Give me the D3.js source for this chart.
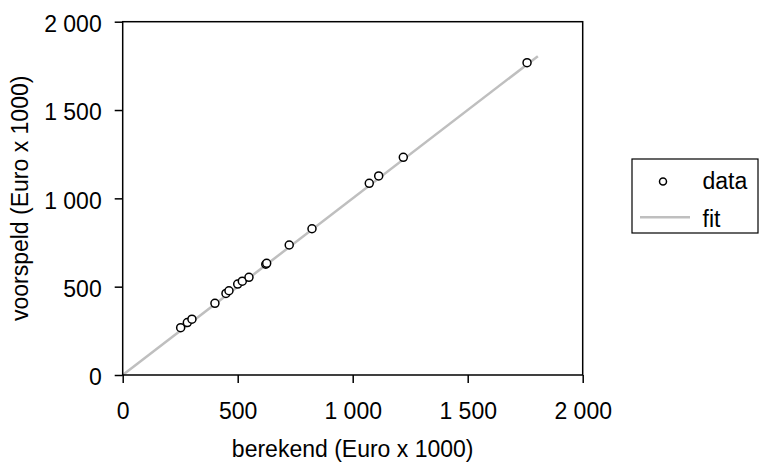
<!DOCTYPE html>
<html>
<head>
<meta charset="utf-8">
<script src="https://cdn.jsdelivr.net/npm/d3@7"></script>
<style>
  body { margin: 0; background: #fff; }
  text { font-family: "Liberation Sans", Arial, sans-serif; fill: #000; }
</style>
</head>
<body>
<div id="chart"></div>
<script>
// data
var berekend  = [252, 281, 301, 401, 449, 462, 500, 520, 549, 622, 626, 724, 823, 1072, 1113, 1220, 1758];
var voorspeld = [268, 297, 316, 406, 462, 477, 515, 531, 553, 627, 632, 736, 828, 1085, 1127, 1232, 1768];
var fitX = [0, 1805];
var fitY = [0, 1805];
var xTicks = [0, 500, 1000, 1500, 2000];
var yTicks = [0, 500, 1000, 1500, 2000];
var legendLabels = ["data", "fit"];

var W = 768, H = 464;
var margin = {top: 21.7, right: 185.3, bottom: 89, left: 122.7},
    width = W - margin.left - margin.right,
    height = H - margin.top - margin.bottom;

var fmt = function(d) { return d3.format(",")(d).replace(/,/g, "\u00a0"); };

var svg = d3.select("#chart")
  .append("svg")
    .attr("width", W)
    .attr("height", H);

var g = svg.append("g")
    .attr("transform", "translate(" + margin.left + "," + margin.top + ")");

var x = d3.scaleLinear().domain([0, 2000]).range([0, width]);
var y = d3.scaleLinear().domain([0, 2000]).range([height, 0]);

// fit line
var pts = fitX.map(function(d, i) { return [d, fitY[i]]; });
g.append("path")
  .datum(pts)
  .attr("d", d3.line().x(function(d) { return x(d[0]); }).y(function(d) { return y(d[1]); }))
  .attr("fill", "none")
  .attr("stroke", "#bfbfbf")
  .attr("stroke-width", 2.5);

// frame
g.append("rect")
  .attr("width", width)
  .attr("height", height)
  .attr("fill", "none")
  .attr("stroke", "#000")
  .attr("stroke-width", 1.5);

// axes
var xAxis = g.append("g")
  .attr("transform", "translate(0," + height + ")")
  .call(d3.axisBottom(x).tickValues(xTicks).tickFormat(fmt).tickSize(8).tickPadding(19.5));
var yAxis = g.append("g")
  .call(d3.axisLeft(y).tickValues(yTicks).tickFormat(fmt).tickSize(8).tickPadding(13));
[xAxis, yAxis].forEach(function(a) {
  a.select(".domain").remove();
  a.selectAll("line").attr("stroke", "#000").attr("stroke-width", 1.5);
  a.selectAll("text").style("font-size", "23px").attr("fill", "#000");
});
yAxis.selectAll("text").attr("dy", "0.43em");

// points
g.selectAll("circle.pt")
  .data(berekend)
  .enter()
  .append("circle")
    .attr("class", "pt")
    .attr("cx", function(d) { return x(d); })
    .attr("cy", function(d, i) { return y(voorspeld[i]); })
    .attr("r", 4)
    .attr("fill", "#fff")
    .attr("stroke", "#000")
    .attr("stroke-width", 1.5);

// axis titles
svg.append("text")
  .attr("x", margin.left + width / 2)
  .attr("y", 457)
  .attr("text-anchor", "middle")
  .style("font-size", "23px")
  .text("berekend (Euro x 1000)");

svg.append("text")
  .attr("transform", "translate(28," + (margin.top + height / 2) + ")rotate(-90)")
  .attr("text-anchor", "middle")
  .style("font-size", "23px")
  .text("voorspeld (Euro x 1000)");

// legend
var lg = svg.append("g").attr("transform", "translate(632,159)");
lg.append("rect")
  .attr("width", 126)
  .attr("height", 74)
  .attr("fill", "#fff")
  .attr("stroke", "#000")
  .attr("stroke-width", 1.2);
lg.append("circle")
  .attr("cx", 31).attr("cy", 22.5).attr("r", 3.5)
  .attr("fill", "#fff").attr("stroke", "#000").attr("stroke-width", 1.5);
lg.append("line")
  .attr("x1", 8).attr("x2", 58).attr("y1", 58.3).attr("y2", 58.3)
  .attr("stroke", "#bfbfbf").attr("stroke-width", 2.5);
lg.selectAll("text.lab")
  .data(legendLabels)
  .enter()
  .append("text")
    .attr("class", "lab")
    .attr("x", 70.5)
    .attr("y", function(d, i) { return 30 + i * 37.5; })
    .style("font-size", "23px")
    .text(function(d) { return d; });
</script>
</body>
</html>
